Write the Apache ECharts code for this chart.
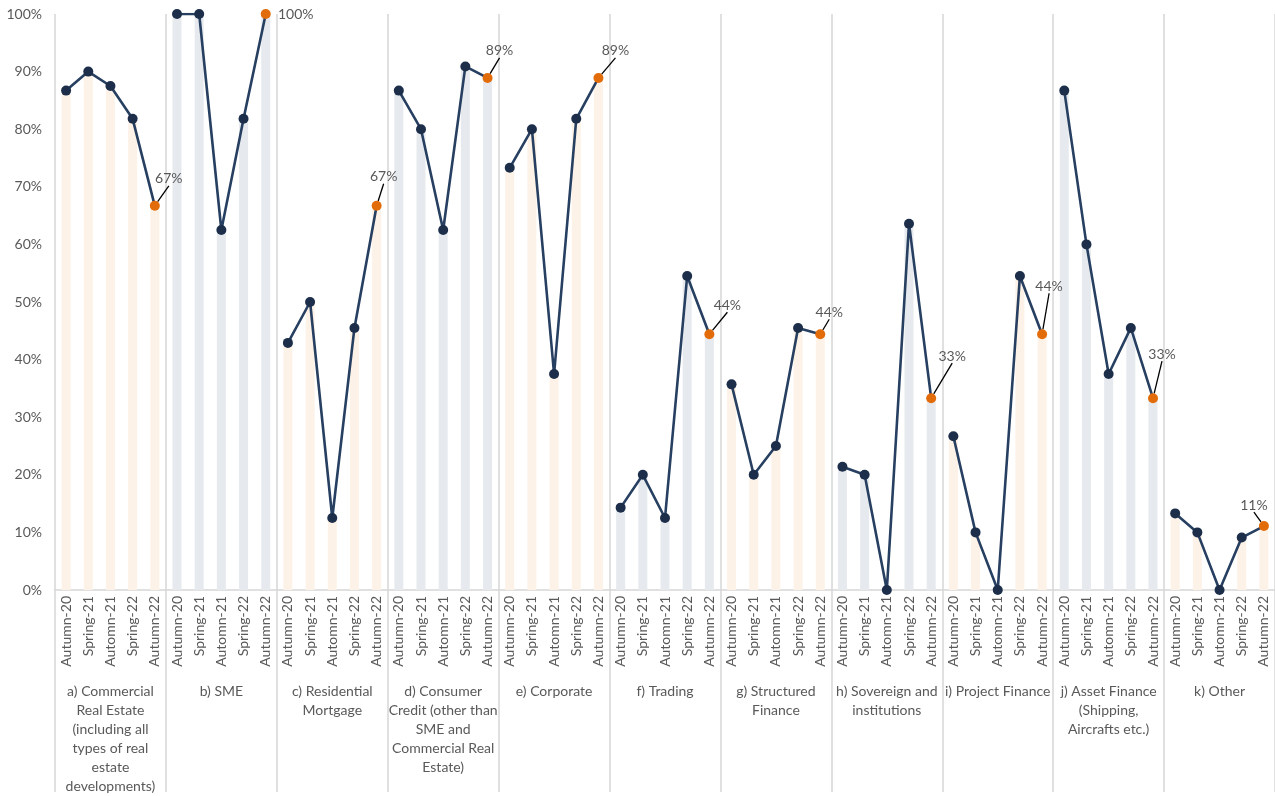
<!DOCTYPE html>
<html>
<head>
<meta charset="utf-8">
<script src="https://cdn.jsdelivr.net/npm/echarts@6/dist/echarts.min.js"></script>
<style>
html,body{margin:0;padding:0;background:#fff;}
#chart{width:1275px;height:796px;}
</style>
</head>
<body>
<div id="chart"></div>
<script>
// ---- Data ----
const periods = ['Autumn-20', 'Spring-21', 'Automn-21', 'Spring-22', 'Autumn-22'];
const groupNames = [
  'a) Commercial\nReal Estate\n(including all\ntypes of real\nestate\ndevelopments)',
  'b) SME',
  'c) Residential\nMortgage',
  'd) Consumer\nCredit (other than\nSME and\nCommercial Real\nEstate)',
  'e) Corporate',
  'f) Trading',
  'g) Structured\nFinance',
  'h) Sovereign and\ninstitutions',
  'i) Project Finance',
  'j) Asset Finance\n(Shipping,\nAircrafts etc.)',
  'k) Other'
];
const commercialRealEstate = [86.7, 90.0, 87.5, 81.8, 66.7];
const sme                  = [100, 100, 62.5, 81.8, 100];
const residentialMortgage  = [42.9, 50.0, 12.5, 45.5, 66.7];
const consumerCredit       = [86.7, 80.0, 62.5, 90.9, 88.9];
const corporate            = [73.3, 80.0, 37.5, 81.8, 88.9];
const trading              = [14.3, 20.0, 12.5, 54.5, 44.4];
const structuredFinance    = [35.7, 20.0, 25.0, 45.5, 44.4];
const sovereign            = [21.4, 20.0, 0, 63.6, 33.3];
const projectFinance       = [26.7, 10.0, 0, 54.5, 44.4];
const assetFinance         = [86.7, 60.0, 37.5, 45.5, 33.3];
const other                = [13.3, 10.0, 0, 9.1, 11.1];
const yTicks = [0, 10, 20, 30, 40, 50, 60, 70, 80, 90, 100];

const groupValues = [commercialRealEstate, sme, residentialMortgage, consumerCredit, corporate,
  trading, structuredFinance, sovereign, projectFinance, assetFinance, other];

// ---- Styling ----
const navyLine = '#273F60';
const navyDot = '#1C2E4A';
const orange = '#E36C0A';
const barOrange = '#FDF2E7';
const barGrey = '#E6EAEE';
const txt = '#595959';
const sep = '#D6D6D6';
const font = 'Lato';
// label offsets (dx, dy) from the last point of each group
const labelOffsets = [[14,-27],[30,0],[7,-29],[12,-27],[17,-27],[18,-29],[9,-22],[21,-42],[7,-48],[9,-44],[-10,-21]];

const nG = groupNames.length, nP = periods.length;
const catLabels = [];
const barData = [];
groupValues.forEach((vals, gi) => {
  vals.forEach((v, i) => {
    catLabels.push(periods[i]);
    barData.push({value: v, itemStyle: {color: gi % 2 === 0 ? barOrange : barGrey}});
  });
});

const lineSeries = groupValues.map((vals, gi) => {
  const data = new Array(nG * nP).fill(null);
  vals.forEach((v, i) => {
    data[gi * nP + i] = (i === nP - 1)
      ? {value: v, itemStyle: {color: orange}, label: {show: true}}
      : v;
  });
  return {
    type: 'line',
    xAxisIndex: 0,
    data: data,
    symbol: 'circle',
    symbolSize: 10,
    connectNulls: false,
    lineStyle: {color: navyLine, width: 2.6},
    itemStyle: {color: navyDot},
    label: {
      show: false, position: 'inside',
      formatter: p => Math.round(p.value) + '%',
      color: txt, fontSize: 14, fontFamily: font
    },
    labelLayout: {dx: labelOffsets[gi][0], dy: labelOffsets[gi][1]},
    labelLine: {show: gi !== 1, lineStyle: {color: '#000', width: 1.3}},
    emphasis: {disabled: true},
    z: 3
  };
});

const chart = echarts.init(document.getElementById('chart'), null, {renderer: 'canvas'});
chart.setOption({
  animation: false,
  backgroundColor: '#fff',
  textStyle: {fontFamily: font},
  grid: {left: 55, top: 14, width: 1225, height: 580, containLabel: false},
  xAxis: [
    {
      type: 'category',
      data: catLabels,
      position: 'bottom',
      axisLine: {show: true, lineStyle: {color: sep, width: 1.5}},
      axisTick: {show: false},
      axisLabel: {interval: 0, rotate: 90, color: txt, fontSize: 14, fontFamily: font, margin: 6},
      splitLine: {show: false}
    },
    {
      type: 'category',
      data: groupNames,
      position: 'bottom',
      axisLine: {show: false},
      axisTick: {show: true, length: 202, lineStyle: {color: sep, width: 1.5}},
      axisLabel: {interval: 0, color: txt, fontSize: 14, fontFamily: font, margin: 92, lineHeight: 19, align: 'center'},
      splitLine: {show: true, lineStyle: {color: sep, width: 1.5}}
    }
  ],
  yAxis: {
    type: 'value',
    min: yTicks[0], max: yTicks[yTicks.length - 1], interval: 10,
    axisLine: {show: false},
    axisTick: {show: false},
    splitLine: {show: false},
    axisLabel: {formatter: '{value}%', color: txt, fontSize: 14, fontFamily: font, margin: 13}
  },
  series: [
    {
      type: 'bar',
      xAxisIndex: 0,
      data: barData,
      barWidth: 9,
      emphasis: {disabled: true},
      z: 1
    }
  ].concat(lineSeries)
});
</script>
</body>
</html>
